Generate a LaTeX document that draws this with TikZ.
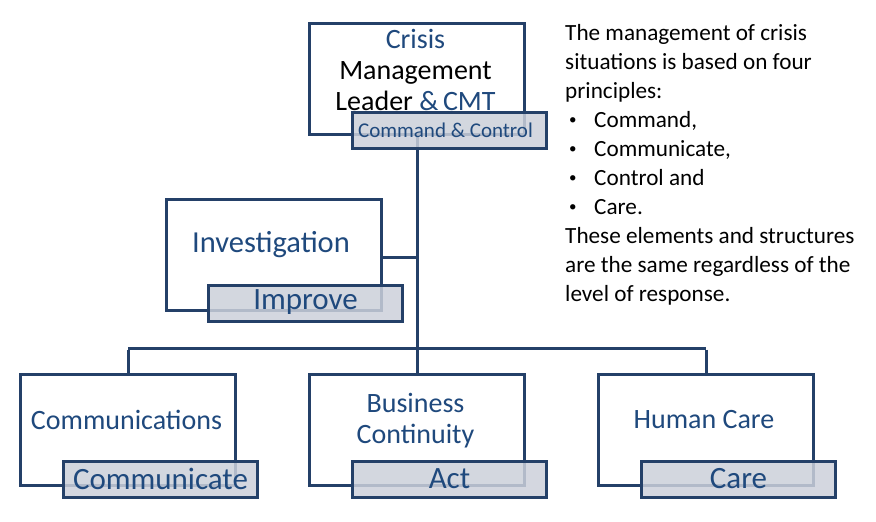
\documentclass[tikz,border=0pt]{standalone}
\usepackage{fontspec}
\setmainfont{Carlito}
\definecolor{navy}{RGB}{36,64,104}
\definecolor{tblue}{RGB}{31,73,125}
\definecolor{gfill}{RGB}{204,208,218}
\newcommand{\bul}{\makebox[29pt][l]{\hspace{4pt}\raisebox{2.5pt}{\fontsize{15}{15}\selectfont •}}}
\begin{document}
\begin{tikzpicture}[x=1pt,y=-1pt,
  wbox/.style={draw=navy,line width=3pt,fill=white,minimum width=215pt,minimum height=111pt,anchor=north west,inner sep=0pt},
  gbox/.style={draw=navy,line width=3pt,fill=gfill,fill opacity=0.85,text opacity=1,minimum width=194pt,minimum height=36pt,anchor=north west,inner sep=0pt},
  conn/.style={draw=navy,line width=3pt},
  wlabel/.style={text=tblue,align=center,font=\fontsize{28}{31}\selectfont},
  glabel/.style={text=tblue,font=\fontsize{31}{33}\selectfont}]
\useasboundingbox (0,0) rectangle (876,522);
% boxes (white)
\node[wbox] (top) at (308,22) {};
\node[wbox] (inv) at (165,198) {};
\node[wbox] (comm) at (19,373) {};
\node[wbox] (bc) at (308,373) {};
\node[wbox] (hc) at (597,373) {};
% connectors
\coordinate (hub) at (415.5,348);
\draw[navy,line width=3pt] (top.south) -- (bc.north);
\draw[navy,line width=3pt] (comm.north |- hub) -- (hc.north |- hub);
\draw[navy,line width=3pt] ([yshift=-1.5pt]comm.north |- hub) -- (comm.north);
\draw[navy,line width=3pt] ([yshift=-1.5pt]hc.north |- hub) -- (hc.north);
\draw[navy,line width=3pt] ([yshift=-2pt]inv.east) -- ([yshift=-2pt]inv.east -| top.south);
% redraw white boxes on top of connectors
\node[wbox] at (308,22) {};
\node[wbox] at (165,198) {};
\node[wbox] at (19,373) {};
\node[wbox] at (308,373) {};
\node[wbox] at (597,373) {};
% labels in white boxes
\node[wlabel] (tl) at (415.5,70) {\textcolor{tblue}{Crisis}\\\textcolor{black}{Management}\\\textcolor{black}{Leader} \textcolor{tblue}{\&\,CMT}};
\node[wlabel,font=\fontsize{30.5}{33}\selectfont] (il) at (271,245) {Investigation};
\node[wlabel] (cl) at (126.5,420) {Communications};
\node[wlabel] (bl) at (415.5,421) {Business\\Continuity};
\node[wlabel] (hl) at (704,420) {Human Care};
% gray boxes
\node[gbox] (cc) at (351,111) {};
\node[gbox] (imp) at (207,284) {};
\node[gbox] (com) at (62,460) {};
\node[gbox] (act) at (351,460) {};
\node[gbox] (care) at (640,460) {};
\node[text=tblue,font=\fontsize{21}{23}\selectfont] at ([xshift=-4pt]cc.center) {Command \& Control};
\node[glabel] at ([yshift=1pt]imp.center) {Improve};
\node[glabel] at ([yshift=1pt]com.center) {Communicate};
\node[glabel] at ([yshift=1pt]act.center) {Act};
\node[glabel] at ([yshift=1pt]care.center) {Care};
% right text
\node[anchor=north west,align=left,inner sep=0pt,font=\fontsize{23.2}{29}\selectfont] (rt) at (565,24)
{The management of crisis\\
situations is based on four\\
principles:\\
\bul Command,\\
\bul Communicate,\\
\bul Control and\\
\bul Care.\\
These elements and structures\\
are the same regardless of the\\
level of response.};
\end{tikzpicture}
\end{document}
